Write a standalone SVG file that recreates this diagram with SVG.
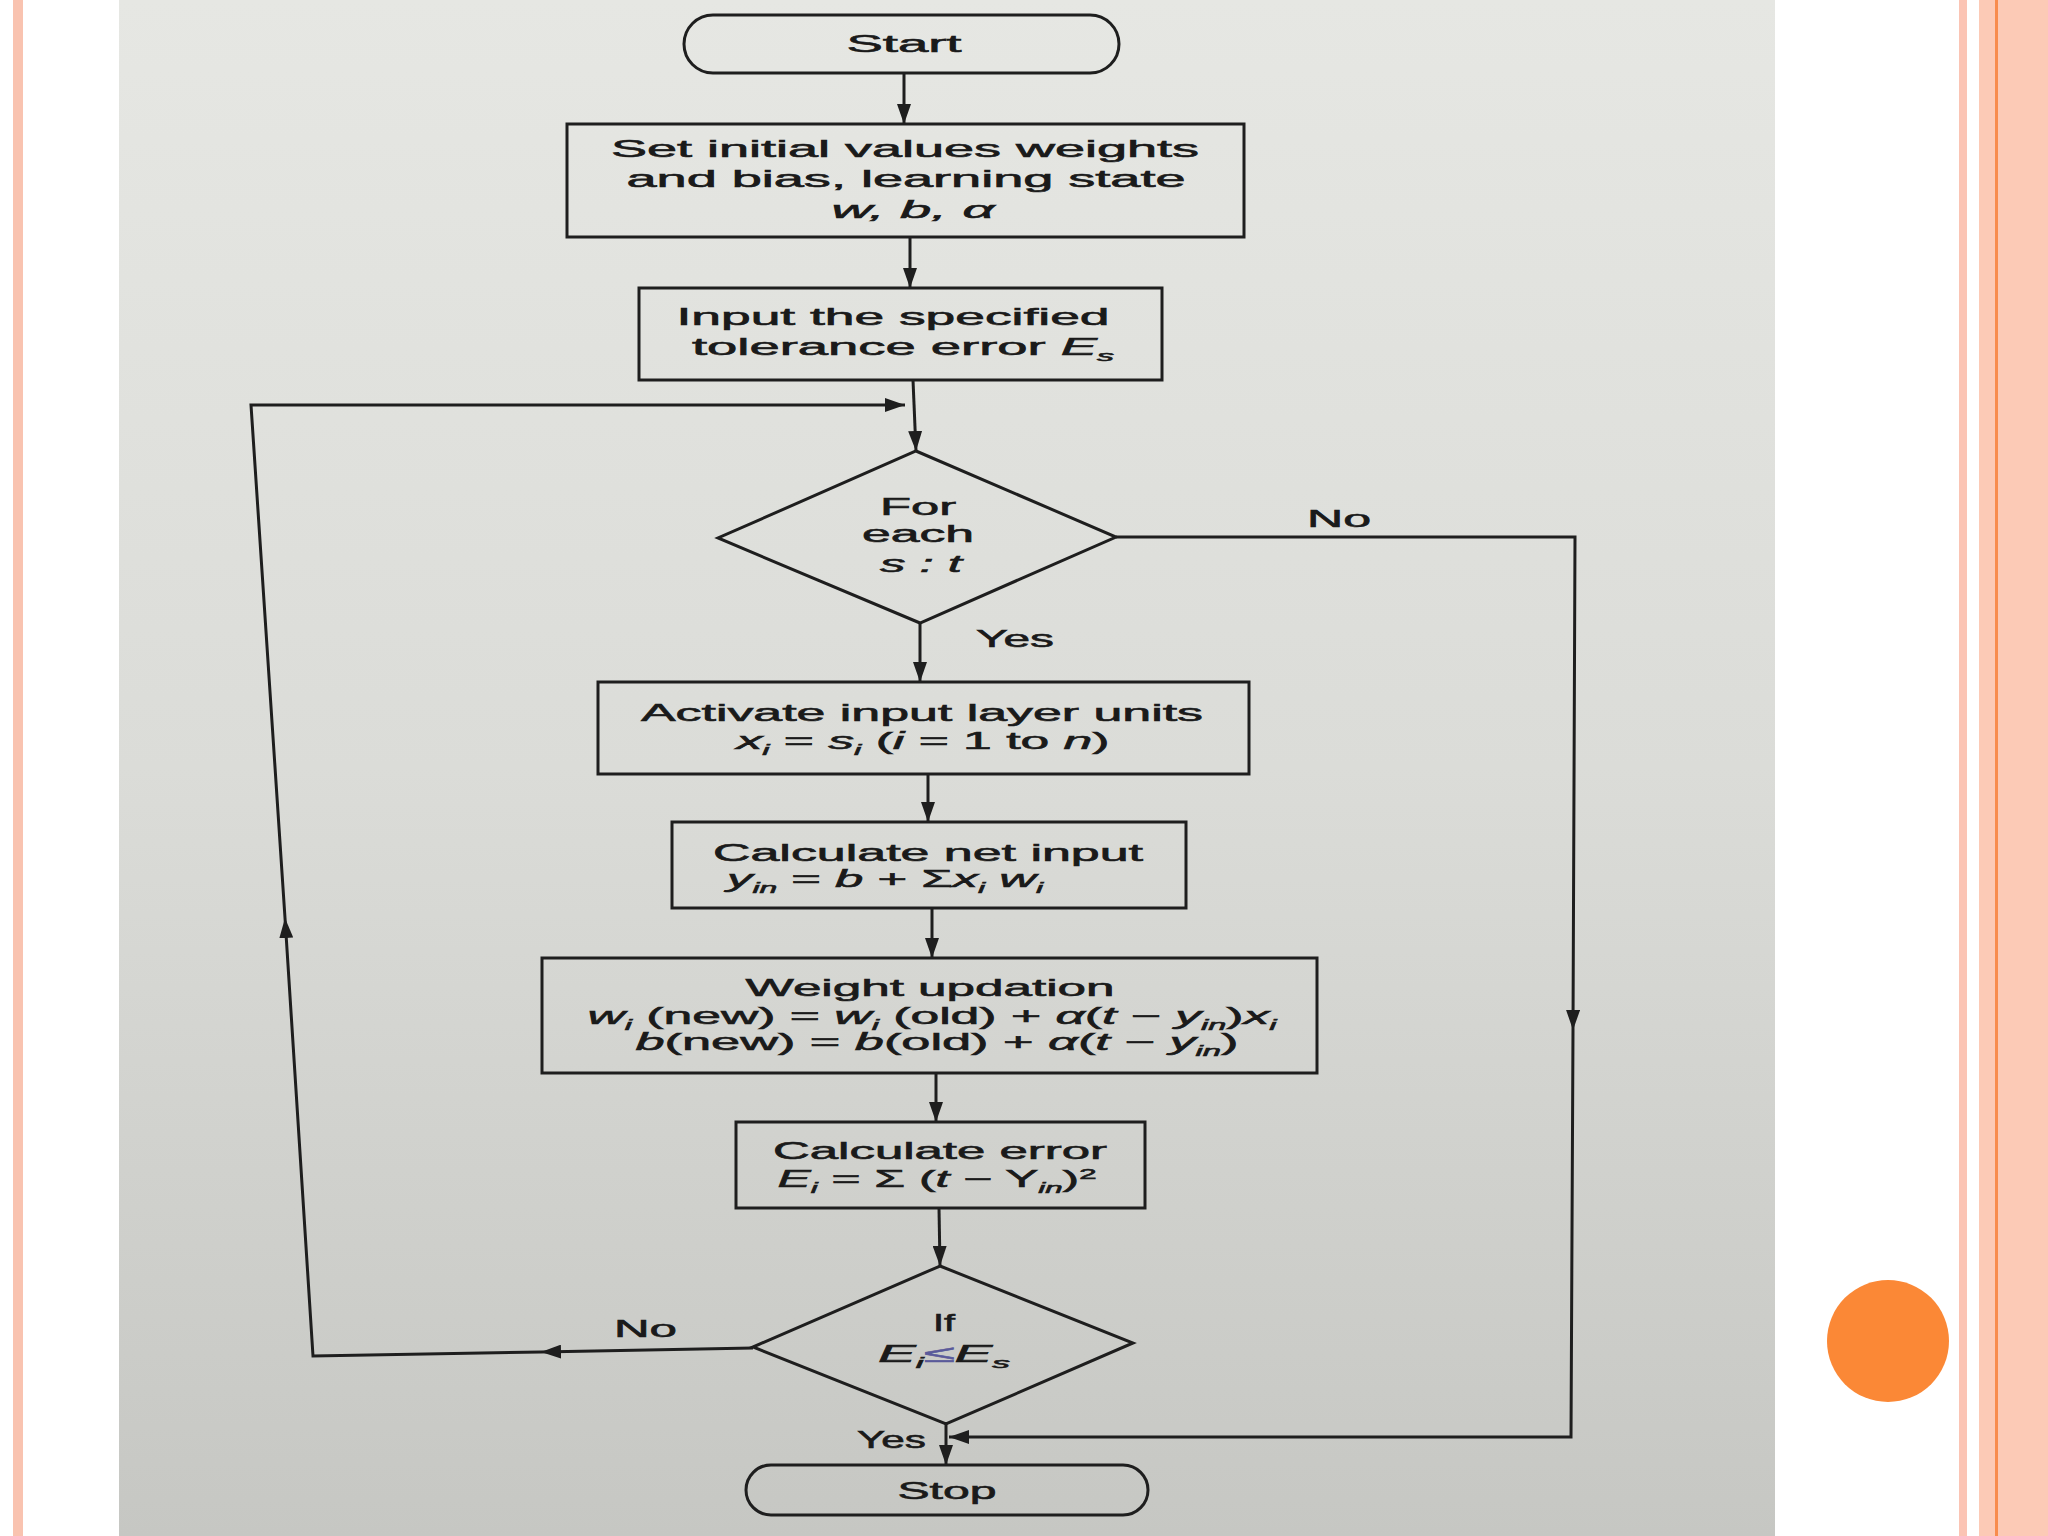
<svg xmlns="http://www.w3.org/2000/svg" width="2048" height="1536" viewBox="0 0 2048 1536">
<defs>
<linearGradient id="paper" x1="0" y1="0" x2="0" y2="1">
<stop offset="0" stop-color="#e6e7e3"/>
<stop offset="0.5" stop-color="#dbdcd8"/>
<stop offset="1" stop-color="#c6c7c3"/>
</linearGradient>
<marker id="ah" viewBox="0 0 20 14" refX="20" refY="7" markerWidth="20" markerHeight="14" markerUnits="userSpaceOnUse" orient="auto">
<path d="M0,0 L20,7 L0,14 Z" fill="#1e1e1e"/>
</marker>
<style>
.shape{fill:none;stroke:#1e1e1e;stroke-width:3}
.con{fill:none;stroke:#1e1e1e;stroke-width:3}
text{font-family:"Liberation Sans",Arial,sans-serif;font-size:24px;fill:#1a1a1a;stroke:#1a1a1a;stroke-width:0.6}
.c{text-anchor:middle}
.it{font-style:italic}
.sub{font-size:15px}
</style>
</defs>
<rect x="0" y="0" width="2048" height="1536" fill="#ffffff"/>
<rect x="13" y="0" width="10" height="1536" fill="#f9c3b0"/>
<rect x="1959" y="0" width="8" height="1536" fill="#fbc4b4"/>
<rect x="1979" y="0" width="69" height="1536" fill="#fccab6"/>
<rect x="1995" y="0" width="3" height="1536" fill="#f88c4e"/>
<rect x="119" y="0" width="1656" height="1536" fill="url(#paper)"/>
<circle cx="1888" cy="1341" r="61" fill="#fb8836"/>

<g id="connectors">
<path class="con" d="M904,73 L904,124" marker-end="url(#ah)"/>
<path class="con" d="M910,237 L910,288" marker-end="url(#ah)"/>
<path class="con" d="M913,380 L916,451" marker-end="url(#ah)"/>
<path class="con" d="M920,623 L920,682" marker-end="url(#ah)"/>
<path class="con" d="M928,774 L928,822" marker-end="url(#ah)"/>
<path class="con" d="M932,908 L932,958" marker-end="url(#ah)"/>
<path class="con" d="M936,1073 L936,1122" marker-end="url(#ah)"/>
<path class="con" d="M939,1208 L940,1266" marker-end="url(#ah)"/>
<path class="con" d="M946,1424 L946,1465" marker-end="url(#ah)"/>
<path class="con" d="M1116,537 L1575,537 L1573,1030" marker-end="url(#ah)"/>
<path class="con" d="M1573,1030 L1571,1437 L949,1437" marker-end="url(#ah)"/>
<path class="con" d="M753,1348 L541,1352" marker-end="url(#ah)"/>
<path class="con" d="M541,1352 L313,1356 L285,918" marker-end="url(#ah)"/>
<path class="con" d="M285,918 L251,405 L905,405" marker-end="url(#ah)"/>
</g>

<g id="start">
<rect class="shape" x="684" y="15" width="435" height="58" rx="29"/>
<text class="c" x="904" y="52" textLength="115" lengthAdjust="spacingAndGlyphs">Start</text>
</g>

<g id="init">
<rect class="shape" x="567" y="124" width="677" height="113"/>
<text class="c" x="905" y="157" textLength="588" lengthAdjust="spacingAndGlyphs">Set initial values weights</text>
<text class="c" x="906" y="187" textLength="559" lengthAdjust="spacingAndGlyphs">and bias, learning state</text>
<text class="c it" x="913" y="218" textLength="163" lengthAdjust="spacingAndGlyphs">w, b, α</text>
</g>

<g id="tolerance">
<rect class="shape" x="639" y="288" width="523" height="92"/>
<text class="c" x="893" y="325" textLength="433" lengthAdjust="spacingAndGlyphs">Input the specified</text>
<text class="c" x="903" y="355" textLength="422" lengthAdjust="spacingAndGlyphs">tolerance error <tspan class="it">E</tspan><tspan class="sub it" dy="6">s</tspan></text>
</g>

<g id="foreach">
<polygon class="shape" points="916,451 1116,537 920,623 718,538"/>
<text class="c" x="918" y="515" textLength="76" lengthAdjust="spacingAndGlyphs">For</text>
<text class="c" x="918" y="542" textLength="112" lengthAdjust="spacingAndGlyphs">each</text>
<text class="c it" x="921" y="572" textLength="82" lengthAdjust="spacingAndGlyphs">s : t</text>
<text x="1307" y="527" textLength="64" lengthAdjust="spacingAndGlyphs">No</text>
<text x="976" y="647" textLength="78" lengthAdjust="spacingAndGlyphs">Yes</text>
</g>

<g id="activate">
<rect class="shape" x="598" y="682" width="651" height="92"/>
<text class="c" x="922" y="721" textLength="562" lengthAdjust="spacingAndGlyphs">Activate input layer units</text>
<text class="c" x="923" y="749" textLength="373" lengthAdjust="spacingAndGlyphs"><tspan class="it">x</tspan><tspan class="sub it" dy="6">i</tspan><tspan dy="-6"> = </tspan><tspan class="it">s</tspan><tspan class="sub it" dy="6">i</tspan><tspan dy="-6"> (</tspan><tspan class="it">i</tspan> = 1 to <tspan class="it">n</tspan>)</text>
</g>

<g id="netinput">
<rect class="shape" x="672" y="822" width="514" height="86"/>
<text class="c" x="928" y="861" textLength="430" lengthAdjust="spacingAndGlyphs">Calculate net input</text>
<text class="c" x="885" y="887" textLength="316" lengthAdjust="spacingAndGlyphs"><tspan class="it">y</tspan><tspan class="sub it" dy="6">in</tspan><tspan dy="-6"> = </tspan><tspan class="it">b</tspan> + Σ<tspan class="it">x</tspan><tspan class="sub it" dy="6">i</tspan><tspan class="it" dy="-6"> w</tspan><tspan class="sub it" dy="6">i</tspan></text>
</g>

<g id="update">
<rect class="shape" x="542" y="958" width="775" height="115"/>
<text class="c" x="930" y="996" textLength="369" lengthAdjust="spacingAndGlyphs">Weight updation</text>
<text class="c" x="932" y="1024" textLength="689" lengthAdjust="spacingAndGlyphs"><tspan class="it">w</tspan><tspan class="sub it" dy="6">i</tspan><tspan dy="-6"> (new) = </tspan><tspan class="it">w</tspan><tspan class="sub it" dy="6">i</tspan><tspan dy="-6"> (old) + </tspan><tspan class="it">α</tspan>(<tspan class="it">t</tspan> − <tspan class="it">y</tspan><tspan class="sub it" dy="6">in</tspan><tspan dy="-6">)</tspan><tspan class="it">x</tspan><tspan class="sub it" dy="6">i</tspan></text>
<text class="c" x="937" y="1050" textLength="603" lengthAdjust="spacingAndGlyphs"><tspan class="it">b</tspan>(new) = <tspan class="it">b</tspan>(old) + <tspan class="it">α</tspan>(<tspan class="it">t</tspan> − <tspan class="it">y</tspan><tspan class="sub it" dy="6">in</tspan><tspan dy="-6">)</tspan></text>
</g>

<g id="error">
<rect class="shape" x="736" y="1122" width="409" height="86"/>
<text class="c" x="940" y="1159" textLength="334" lengthAdjust="spacingAndGlyphs">Calculate error</text>
<text class="c" x="937" y="1187" textLength="319" lengthAdjust="spacingAndGlyphs"><tspan class="it">E</tspan><tspan class="sub it" dy="6">i</tspan><tspan dy="-6"> = Σ (</tspan><tspan class="it">t</tspan> − Y<tspan class="sub it" dy="6">in</tspan><tspan dy="-6">)</tspan><tspan class="sub" dy="-8">2</tspan></text>
</g>

<g id="check">
<polygon class="shape" points="940,1266 1133,1343 946,1424 753,1347"/>
<text class="c" x="944" y="1331" textLength="22" lengthAdjust="spacingAndGlyphs">If</text>
<text class="c" x="944" y="1362" textLength="132" lengthAdjust="spacingAndGlyphs"><tspan class="it">E</tspan><tspan class="sub it" dy="6">i</tspan><tspan dy="-6" fill="#5a5a9a" stroke="#5a5a9a">≤</tspan><tspan class="it">E</tspan><tspan class="sub it" dy="6">s</tspan></text>
<text x="614" y="1337" textLength="63" lengthAdjust="spacingAndGlyphs">No</text>
<text x="857" y="1448" textLength="69" lengthAdjust="spacingAndGlyphs">Yes</text>
</g>

<g id="stop">
<rect class="shape" x="746" y="1465" width="402" height="50" rx="25"/>
<text class="c" x="947" y="1499" textLength="99" lengthAdjust="spacingAndGlyphs">Stop</text>
</g>
</svg>
